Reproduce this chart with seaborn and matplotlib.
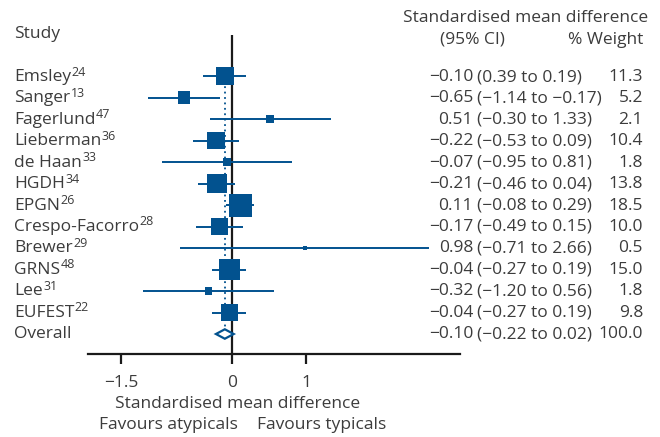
import numpy as np
import pandas as pd
import matplotlib
matplotlib.use("Agg")
import matplotlib.pyplot as plt
import seaborn as sns
from matplotlib.patches import Polygon

studies = ["Emsley", "Sanger", "Fagerlund", "Lieberman", "de Haan", "HGDH",
           "EPGN", "Crespo-Facorro", "Brewer", "GRNS", "Lee", "EUFEST"]
refs = ["24", "13", "47", "36", "33", "34", "26", "28", "29", "48", "31", "22"]
smd = [-0.10, -0.65, 0.51, -0.22, -0.07, -0.21, 0.11, -0.17, 0.98, -0.04, -0.32, -0.04]
ci_low = [-0.39, -1.14, -0.30, -0.53, -0.95, -0.46, -0.08, -0.49, -0.71, -0.27, -1.20, -0.27]
ci_high = [0.19, -0.17, 1.33, 0.09, 0.81, 0.04, 0.29, 0.15, 2.66, 0.19, 0.56, 0.19]
weight = [11.3, 5.2, 2.1, 10.4, 1.8, 13.8, 18.5, 10.0, 0.5, 15.0, 1.8, 9.8]
# printed CI text (first row keeps the typo from the source table)
ci_text = ["(0.39 to 0.19)", "(\u22121.14 to \u22120.17)", "(\u22120.30 to 1.33)",
           "(\u22120.53 to 0.09)", "(\u22120.95 to 0.81)", "(\u22120.46 to 0.04)",
           "(\u22120.08 to 0.29)", "(\u22120.49 to 0.15)", "(\u22120.71 to 2.66)",
           "(\u22120.27 to 0.19)", "(\u22121.20 to 0.56)", "(\u22120.27 to 0.19)"]
overall = {"smd": -0.10, "low": -0.22, "high": 0.02, "weight": 100.0}
xticks = [-1.5, 0, 1]

BLUE = "#02528f"
TXT = "#3c3c3c"

sns.set_theme(style="white")
plt.rcParams["font.family"] = ["Open Sans", "DejaVu Sans"]
plt.rcParams["axes.unicode_minus"] = True

df = pd.DataFrame({"study": studies, "smd": smd, "low": ci_low, "high": ci_high,
                   "weight": weight})
df["row"] = np.arange(len(df))
n = len(df)

W, H = 660, 437
fig = plt.figure(figsize=(W / 100, H / 100), dpi=100)
# axes box in pixels: x 88..460, y 35..354
ax = fig.add_axes([88 / W, 1 - 354 / H, (460 - 88) / W, (354 - 35) / H])
ax.set_xlim(-1.95, 3.08)
ax.set_ylim(12.93, -1.91)
ax.patch.set_alpha(0)

# zero line and overall dotted line
ax.axvline(0, color="#1a1a1a", lw=1.6, zorder=1)
ax.plot([overall["smd"], overall["smd"]], [-0.3, n - 0.25], color=BLUE,
        lw=1.3, ls=(0, (1, 2)), zorder=1)

# confidence intervals
ax.hlines(df["row"], df["low"], df["high"], color=BLUE, lw=1.4, zorder=2)

# weighted squares
k = 14.9
sns.scatterplot(data=df, x="smd", y="row", size="weight", sizes=(0, 18.5 * k),
                size_norm=(0, 18.5), marker="s", color=BLUE, linewidth=0,
                legend=False, ax=ax, zorder=3)

# overall diamond
dh = 0.22
diamond = Polygon([[overall["low"], n], [overall["smd"], n - dh],
                   [overall["high"], n], [overall["smd"], n + dh]],
                  closed=True, facecolor="white", edgecolor=BLUE, lw=1.6, zorder=3)
ax.add_patch(diamond)

fs = 12.5

# axis styling
for s in ["left", "top", "right"]:
    ax.spines[s].set_visible(False)
ax.spines["bottom"].set_color("#1a1a1a")
ax.spines["bottom"].set_linewidth(1.6)
ax.set_yticks([])
ax.set_xticks(xticks)
ax.set_xticklabels(["\u22121.5", "0", "1"])
ax.tick_params(axis="x", direction="out", length=7, width=1.6, color="#1a1a1a",
               labelsize=fs, labelcolor=TXT, pad=8, bottom=True)
ax.set_xlabel("")
ax.set_ylabel("")


def px(x, y):
    return x / W, 1 - y / H


# left labels with superscript references
fig.text(*px(14, 34), "Study", fontsize=fs, color=TXT, va="center", ha="left")
for i, (name, r) in enumerate(zip(studies, refs)):
    y = 77 + 21.42 * i
    t = fig.text(*px(14, y), name, fontsize=fs, color=TXT, va="center", ha="left")
    ax.annotate(r, xy=(1.0, 1.0), xycoords=t, xytext=(0.4, 2.5),
                textcoords="offset points", ha="left", va="top",
                fontsize=9, color=TXT, annotation_clip=False)
fig.text(*px(14, 77 + 21.42 * n), "Overall", fontsize=fs, color=TXT,
         va="center", ha="left")

# right columns
fig.text(*px(648, 18), "Standardised mean difference", fontsize=fs, color=TXT,
         va="center", ha="right")
fig.text(*px(472, 40), "(95% CI)", fontsize=fs, color=TXT, va="center", ha="center")
fig.text(*px(643, 40), "% Weight", fontsize=fs, color=TXT, va="center", ha="right")


def fmt(v):
    s = f"{v:.2f}"
    return s.replace("-", "\u2212")


for i in range(n):
    y = 77 + 21.42 * i
    fig.text(*px(473, y), fmt(smd[i]), fontsize=fs, color=TXT, va="center", ha="right")
    fig.text(*px(477, y), ci_text[i], fontsize=fs, color=TXT, va="center", ha="left")
    fig.text(*px(643, y), f"{weight[i]:.1f}", fontsize=fs, color=TXT, va="center", ha="right")
y = 77 + 21.42 * n
fig.text(*px(473, y), fmt(overall["smd"]), fontsize=fs, color=TXT, va="center", ha="right")
fig.text(*px(477, y), f"({fmt(overall['low'])} to {fmt(overall['high'])})",
         fontsize=fs, color=TXT, va="center", ha="left")
fig.text(*px(643, y), f"{overall['weight']:.1f}", fontsize=fs, color=TXT,
         va="center", ha="right")

# bottom labels
fig.text(*px(238, 404), "Standardised mean difference", fontsize=fs, color=TXT,
         va="center", ha="center")
fig.text(*px(238, 425), "Favours atypicals", fontsize=fs, color=TXT,
         va="center", ha="right")
fig.text(*px(257, 425), "Favours typicals", fontsize=fs, color=TXT,
         va="center", ha="left")

fig.savefig("out.png", dpi=100, facecolor="white")
